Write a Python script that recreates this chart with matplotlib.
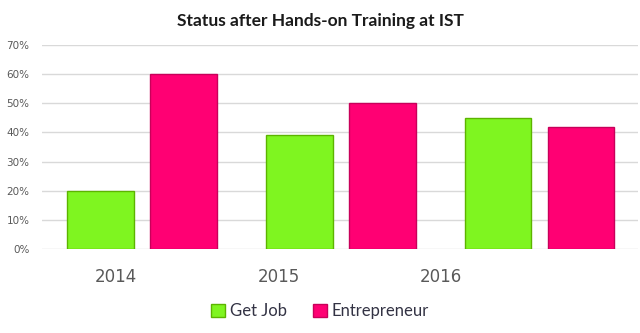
import numpy as np
import matplotlib
matplotlib.use('Agg')
from matplotlib import pyplot as plt
from matplotlib.patches import Patch

years = ["2014", "2015", "2016"]
get_job = [20, 39, 45]
entrepreneur = [60, 50, 42]
y_ticks = [0, 10, 20, 30, 40, 50, 60, 70]

green = "#7ff520"
green_edge = "#5cb400"
pink = "#ff0073"
pink_edge = "#c8005a"
grey_text = "#595959"

fig = plt.figure(figsize=(6.4, 3.33), dpi=100)
ax = fig.add_axes([42 / 640, 1 - 249 / 333, 596 / 640, 204 / 333])

x = np.arange(len(years))
w = 0.335
ax.bar(x - 0.205, get_job, w, color=green, edgecolor=green_edge, linewidth=1.0, zorder=3)
ax.bar(x + 0.213, entrepreneur, w, color=pink, edgecolor=pink_edge, linewidth=1.0, zorder=3)

ax.set_xlim(-0.5, 2.5)
ax.set_ylim(0, 70)
ax.set_yticks(y_ticks)
ax.set_yticklabels([f"{v}%" for v in y_ticks], fontsize=7.5, color=grey_text,
                   family="DejaVu Sans")
ax.yaxis.grid(True, color="#d9d9d9", linewidth=1.0, zorder=0)
ax.tick_params(axis="y", length=0, pad=9)
for s in ax.spines.values():
    s.set_visible(False)

# year labels sit left of the bar groups in the original
ax.set_xticks(x * 0.82 - 0.13)
ax.set_xticklabels(years, fontsize=12, color=grey_text, family="DejaVu Sans")
ax.tick_params(axis="x", length=0, pad=14)

fig.text(0.5, 1 - 21 / 333, "Status after Hands-on Training at IST", ha="center",
         va="center", fontsize=12.5, family="Lato", fontweight="bold", color="#1a1a1a")

handles = [Patch(facecolor=green, edgecolor=green_edge, label="Get Job"),
           Patch(facecolor=pink, edgecolor=pink_edge, label="Entrepreneur")]
fig.legend(handles=handles, loc="center", bbox_to_anchor=(0.5, 1 - 311 / 333), ncol=2,
           frameon=False, prop={"family": "Lato", "size": 12}, handlelength=0.8,
           handleheight=0.8, handletextpad=0.3, columnspacing=1.6, labelcolor="#333344")

fig.savefig("out.png", dpi=100)
